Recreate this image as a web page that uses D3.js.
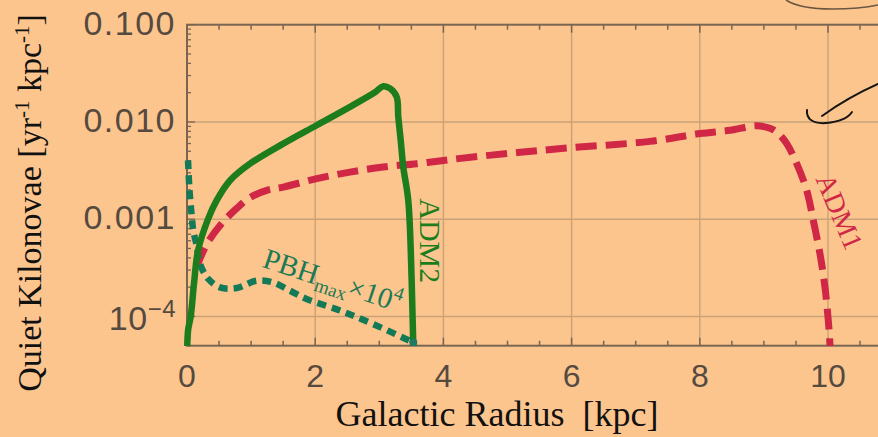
<!DOCTYPE html>
<html><head><meta charset="utf-8">
<script src="https://cdn.jsdelivr.net/npm/d3@7"></script>
<style>
html,body{margin:0;padding:0;background:#fdc58e;}
svg{display:block;}
</style></head>
<body>
<svg id="chart" width="878" height="437"></svg>
<script>
// ---- data ----
const adm1X = [0.15,0.203,0.328,0.541,0.775,0.983,1.243,1.502,2.023,2.543,3.062,3.583,4.103,5.0,5.975,7.223,8.003,8.47,8.888,9.095,9.2,9.356,9.512,9.668,9.771,9.875,9.953,10.005,10.03,10.04];
const adm1Y = [3.2e-4,3.94e-4,5.8e-4,9.03e-4,1.29e-3,1.67e-3,1.98e-3,2.14e-3,2.61e-3,3.05e-3,3.44e-3,3.72e-3,4.1e-3,4.74e-3,5.42e-3,6.31e-3,7.59e-3,8.2e-3,9.14e-3,8.6e-3,7.88e-3,5.98e-3,3.72e-3,1.98e-3,9.7e-4,4.4e-4,1.99e-4,9.0e-5,5.2e-5,3e-5];

const adm2X = [0,0.016,0.058,0.109,0.172,0.328,0.463,0.671,0.983,1.502,2.023,2.543,2.933,3.062,3.167,3.271,3.296,3.334,3.374,3.452,3.505,3.53,3.54];
const adm2Y = [2e-5,7.1e-5,1.0e-4,2.17e-4,4.75e-4,1.0e-3,1.56e-3,2.5e-3,3.72e-3,5.98e-3,9.25e-3,0.0143,0.0202,0.0233,0.0221,0.0181,0.0113,6.47e-3,3.44e-3,1.56e-3,2.33e-4,5.2e-5,2e-5];

const pbhX = [0.016,0.039,0.073,0.098,0.151,0.203,0.332,0.515,0.775,1.087,1.342,1.607,1.867,2.387,2.902,3.53];
const pbhY = [4.03e-3,1.98e-3,1.09e-3,7.64e-4,5.36e-4,3.47e-4,2.43e-4,1.99e-4,1.96e-4,2.33e-4,2.24e-4,1.84e-4,1.51e-4,1.15e-4,8.36e-5,5.4e-5];

const xTickValues = [0,2,4,6,8,10];
const xTickLabels = ["0","2","4","6","8","10"];
const yTickValues = [0.1,0.01,0.001,1e-4];
const yTickLabels = ["0.100","0.010","0.001","10|−4"];

// ---- layout ----
const svg = d3.select("#chart");
const x = d3.scaleLinear().domain([0, 11]).range([187, 187 + 11*64.1]);
const y = d3.scaleLog().domain([5e-5, 0.1]).range([345.7, 24.7]);
const [x0, x1] = x.range();
const [yb, yt] = y.range();

const gridColor = "#c9a278";
const axisColor = "#7a6650";

// clip
svg.append("defs").append("clipPath").attr("id","plotclip")
  .append("rect").attr("x", x0 - 4).attr("y", yt).attr("width", x1 - x0 + 8).attr("height", yb - yt + 0.3);

// grid
const g = svg.append("g");
g.selectAll("line.vg").data(xTickValues.filter(v => v > 0)).enter().append("line")
  .attr("x1", d => x(d)).attr("x2", d => x(d)).attr("y1", yt).attr("y2", yb)
  .attr("stroke", gridColor).attr("stroke-width", 1.4);
g.selectAll("line.hg").data(yTickValues.filter(v => v < 0.1)).enter().append("line")
  .attr("x1", x0).attr("x2", x1).attr("y1", d => y(d)).attr("y2", d => y(d))
  .attr("stroke", gridColor).attr("stroke-width", 1.4);

// frame
svg.append("rect").attr("x", x0).attr("y", yt).attr("width", x1 - x0).attr("height", yb - yt)
  .attr("fill", "none").attr("stroke", axisColor).attr("stroke-width", 2);

// x ticks (minor every 0.5, major every 2) bottom and top, pointing inward
const xMinor = d3.range(0, 11.01, 0.5);
svg.selectAll("line.xtb").data(xMinor).enter().append("line")
  .attr("x1", d => x(d)).attr("x2", d => x(d))
  .attr("y1", yb).attr("y2", d => yb - (d % 2 === 0 ? 8 : 5))
  .attr("stroke", axisColor).attr("stroke-width", 1.5);
svg.selectAll("line.xtt").data(xMinor).enter().append("line")
  .attr("x1", d => x(d)).attr("x2", d => x(d))
  .attr("y1", yt).attr("y2", d => yt + (d % 2 === 0 ? 8 : 5))
  .attr("stroke", axisColor).attr("stroke-width", 1.5);

// y ticks (log) on left, pointing inward
const yAll = y.ticks();
svg.selectAll("line.yt").data(yAll).enter().append("line")
  .attr("x1", x0).attr("x2", d => x0 + (yTickValues.includes(+d.toPrecision(3)) ? 8 : 4))
  .attr("y1", d => y(d)).attr("y2", d => y(d))
  .attr("stroke", axisColor).attr("stroke-width", 1.3);

// tick labels
const tickFont = "'Liberation Sans', Arial, Helvetica, sans-serif";
const tickColor = "#554a3f";
svg.selectAll("text.xl").data(xTickValues).enter().append("text")
  .attr("x", d => x(d)).attr("y", 387)
  .attr("text-anchor", "middle").attr("font-family", tickFont).attr("font-size", 32)
  .attr("fill", tickColor).text((d,i) => xTickLabels[i]);

yTickValues.forEach((v, i) => {
  const lab = yTickLabels[i];
  const t = svg.append("text").attr("x", 176).attr("y", y(v) + 10)
    .attr("text-anchor", "end").attr("font-family", tickFont).attr("font-size", 34)
    .attr("letter-spacing", 1.5).attr("fill", tickColor);
  if (lab.includes("|")) {
    const [base, exp] = lab.split("|");
    t.attr("y", y(v) + 14).attr("letter-spacing", 0.5);
    t.append("tspan").text(base);
    t.append("tspan").attr("font-size", 24).attr("dy", -13).text(exp);
  } else {
    t.text(lab);
  }
});

// axis titles
const serif = "'Liberation Serif', 'Times New Roman', serif";
svg.append("text").attr("x", 497).attr("y", 426).attr("text-anchor", "middle")
  .attr("font-family", serif).attr("font-size", 36).attr("fill", "#111")
  .text("Galactic Radius\u00a0 [kpc]");

const yt1 = svg.append("text").attr("transform", "translate(41,203) rotate(-90)")
  .attr("text-anchor", "middle").attr("font-family", serif).attr("font-size", 34).attr("fill", "#111");
yt1.append("tspan").text("Quiet Kilonovae [yr");
yt1.append("tspan").attr("font-size", 21).attr("dy", -12).text("-1");
yt1.append("tspan").attr("dy", 12).text(" kpc");
yt1.append("tspan").attr("font-size", 21).attr("dy", -12).text("-1");
yt1.append("tspan").attr("dy", 12).text("]");

// series
const line = d3.line().x(d => x(d[0])).y(d => y(d[1])).curve(d3.curveCatmullRom.alpha(0.5));
const plot = svg.append("g").attr("clip-path", "url(#plotclip)");

plot.append("path").datum(d3.zip(adm1X, adm1Y)).attr("d", line)
  .attr("fill", "none").attr("stroke", "#cf2745").attr("stroke-width", 7)
  .attr("stroke-dasharray", "21,9");

plot.append("path").datum(d3.zip(pbhX, pbhY)).attr("d", line)
  .attr("fill", "none").attr("stroke", "#137a57").attr("stroke-width", 6.5)
  .attr("stroke-dasharray", "9,6");

plot.append("path").datum(d3.zip(adm2X, adm2Y)).attr("d", line)
  .attr("fill", "none").attr("stroke", "#1d7d1d").attr("stroke-width", 6.5)
  .attr("stroke-linejoin", "round").attr("stroke-linecap", "round");

// end dot of the PBH curve
plot.append("circle").attr("cx", x(pbhX[pbhX.length-1])).attr("cy", y(pbhY[pbhY.length-1]))
  .attr("r", 4).attr("fill", "#1f7a62");

// curve labels
svg.append("text").attr("transform", `translate(${x(3.63)},${y(1.64e-3)}) rotate(90)`)
  .attr("font-family", serif).attr("font-size", 30).attr("fill", "#1d7d1d").text("ADM2");

svg.append("text").attr("transform", `translate(${x(9.8)},${y(2.6e-3)}) rotate(67)`)
  .attr("font-family", serif).attr("font-size", 28).attr("fill", "#cf2745").text("ADM1");

const pl = svg.append("text").attr("transform", `translate(${x(1.16)},${y(3.25e-4)}) rotate(18.5)`)
  .attr("font-family", serif).attr("font-size", 29).attr("fill", "#1a7a55");
pl.append("tspan").text("PBH");
pl.append("tspan").attr("font-size", 19).attr("dy", 6).text("max");
pl.append("tspan").attr("dy", -6).text("×10");
pl.append("tspan").attr("font-size", 19).attr("dy", -12).text("4");

// hand-drawn annotation strokes (from the slide)
const ink = svg.append("g").attr("fill", "none").attr("stroke", "#151515")
  .attr("stroke-width", 2).attr("stroke-linecap", "round");
ink.append("path").attr("d", "M878,84 C860,92 836,106 822,116");
ink.append("path").attr("d", "M807,110 C806,119 813,124 826,123 C838,122 848,118 852,112");
svg.append("path").attr("d", "M786,0 Q800,9 832,9 Q860,9 878,5")
  .attr("fill", "none").attr("stroke", "#6a5640").attr("stroke-width", 1.6);
</script>
</body></html>
